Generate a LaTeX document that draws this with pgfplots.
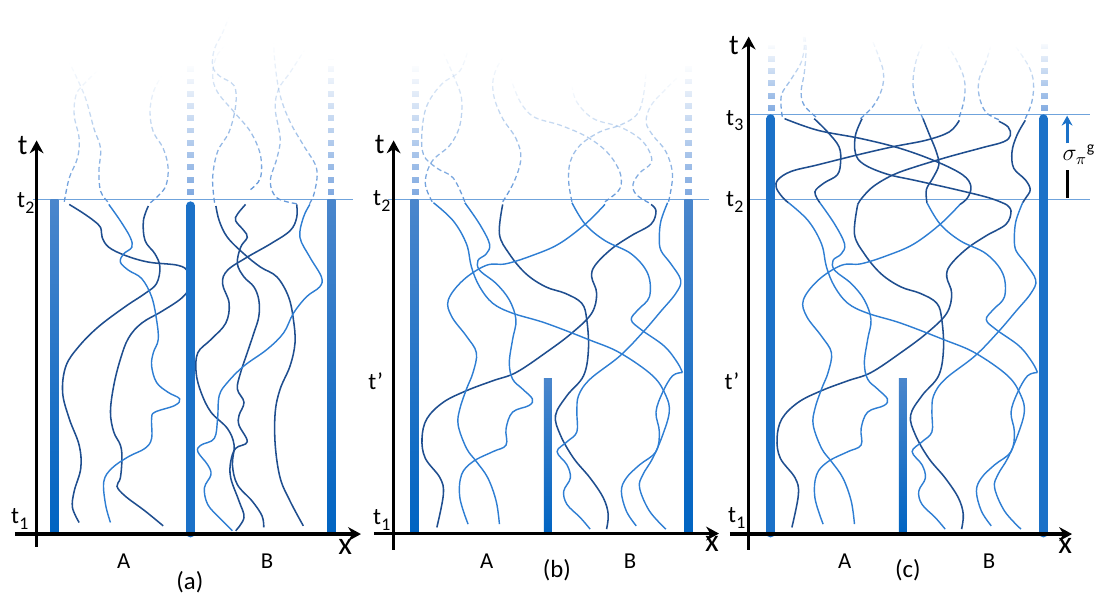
\documentclass[border=0pt]{standalone}
\usepackage{pgfplots}
\pgfplotsset{compat=1.18}
\usepackage{pgfplotstable}
\usepackage{fontspec}
\setmainfont{Carlito}
\usetikzlibrary{arrows.meta,fadings}
\definecolor{dk}{HTML}{1F4E8F}
\definecolor{lt}{HTML}{2E7ED3}
\definecolor{bar}{HTML}{1B71C8}
\definecolor{bartop}{HTML}{4A86CC}
\definecolor{barbot}{HTML}{0064C2}
\definecolor{fd}{HTML}{5F95D8}
\definecolor{fbar}{HTML}{7EA8E0}
\definecolor{hl}{HTML}{6FA3DC}
\newcommand\tl[1]{{\fontsize{12}{13}\selectfont t\kern0.2pt\raisebox{-0.5ex}{\fontsize{9}{10}\selectfont #1}}}
\pgfplotsset{
 cv/.style={smooth, tension=0.6, line width=0.72pt, no markers},
 dcv/.style={cv, color=dk, line width=0.78pt},
 lcv/.style={cv, color=lt},
 ds/.style={smooth, tension=0.6, line width=0.65pt, color=fd, dash pattern=on 2.5pt off 1.6pt, path fading=north, no markers},
 fb/.style={line width=3.2pt, color=fbar, dash pattern=on 3pt off 3.2pt, path fading=north, no markers},
 ax/.style={line width=1.6pt, black, no markers},
 axr/.style={ax, -{Stealth[length=6.5pt,width=7pt]}},
 hln/.style={line width=0.6pt, color=hl, no markers},
 gbar/.style={draw=none, top color=bartop, bottom color=barbot, no markers},
 rbar/.style={line width=4.4pt, color=bar, line cap=round, no markers},
}
% ---------- panel (b) curves (also lower part of panel (c), shifted) ----------
\pgfplotstableread[row sep=\\]{x y\\
658.3 206.7\\ 663.3 213.3\\ 658.3 226.7\\ 638.3 238.3\\ 618.3 251.7\\ 601.7 268.3\\ 598.3 280\\ 603.3 296.7\\ 598.3 316.7\\ 578.3 336.7\\ 551.7 356.7\\ 521.7 376.7\\ 498.3 385\\ 471.7 395\\ 448.3 406.7\\ 431.7 423.3\\ 426.7 443.3\\ 430 463.3\\ 445 483.3\\ 448.3 500\\ 441.7 533.3\\}\bCa
\pgfplotstableread[row sep=\\]{x y\\
508.3 206.7\\ 505 236.7\\ 515 256.7\\ 531.7 276.7\\ 551.7 290\\ 571.7 296.7\\ 588.3 306.7\\ 593.3 323.3\\ 595 353.3\\ 590 380\\ 573.3 400\\ 561.7 420\\ 566.7 440\\ 580 463.3\\ 596.7 483.3\\ 610 503.3\\ 615 520\\ 613.3 535\\}\bCb
\pgfplotstableread[row sep=\\]{x y\\
611.7 206.7\\ 591.7 226.7\\ 565 246.7\\ 538.3 258.3\\ 511.7 266.7\\ 491.7 268.3\\ 468.3 283.3\\ 453.3 303.3\\ 456.7 320\\ 471.7 340\\ 481.7 356.7\\ 478.3 376.7\\ 471.7 393.3\\ 465 413.3\\ 463.3 430\\ 471.7 453.3\\ 481.7 466.7\\ 493.3 483.3\\ 501.7 506.7\\ 505 530\\}\bCc
\pgfplotstableread[row sep=\\]{x y\\
438.3 205\\ 458.3 223.3\\ 471.7 246.7\\ 476.7 270\\ 485 290\\ 498.3 306.7\\ 518.3 316.7\\ 551.7 326.7\\ 595 343.3\\ 626.7 356.7\\ 660 380\\ 673.3 400\\ 676.7 416.7\\ 670 440\\ 660 463.3\\ 650 480\\ 646.7 493.3\\ 656.7 516.7\\ 673.3 535\\}\bCd
\pgfplotstableread[row sep=\\]{x y\\
470 205\\ 485 226.7\\ 495 246.7\\ 491.7 256.7\\ 483.3 263.3\\ 485 273.3\\ 501.7 286.7\\ 515 303.3\\ 521.7 323.3\\ 518.3 343.3\\ 515 366.7\\ 518.3 383.3\\ 528.3 393.3\\ 538.3 403.3\\ 535 410\\ 518.3 416.7\\ 511.7 433.3\\ 511.7 450\\ 498.3 456.7\\ 478.3 466.7\\ 466.7 480\\ 465 503.3\\ 473.3 530\\}\bCe
\pgfplotstableread[row sep=\\]{x y\\
578.3 205\\ 591.7 226.7\\ 611.7 243.3\\ 638.3 256.7\\ 655 276.7\\ 656.7 300\\ 645 313.3\\ 638.3 323.3\\ 648.3 333.3\\ 671.7 350\\ 685 366.7\\ 690 376.7\\}\bCf
\pgfplotstableread[row sep=\\]{x y\\
690 376.7\\ 680 380\\ 670 396.7\\ 663.3 416.7\\ 666.7 436.7\\ 663.3 456.7\\ 646.7 470\\ 633.3 483.3\\ 628.3 496.7\\ 633.3 516.7\\ 643.3 531.7\\}\bCg
\pgfplotstableread[row sep=\\]{x y\\
675 205\\ 668.3 223.3\\ 666.7 240\\ 668.3 253.3\\ 678.3 266.7\\ 688.3 283.3\\ 683.3 296.7\\ 668 315\\ 650 336\\ 626.7 360\\ 596.7 383.3\\ 585 400\\ 583.3 416.7\\ 583.3 436.7\\ 573.3 446.7\\ 563.3 456.7\\ 573.3 470\\ 576.7 483.3\\ 570 496.7\\ 573.3 510\\ 586.7 523.3\\ 596.7 535\\}\bCh
\begin{document}
\begin{tikzpicture}
\begin{axis}[x=0.5pt, y=0.5pt, y dir=reverse, xmin=0, xmax=1102, ymin=0, ymax=602,
  hide axis, clip=false]
\addplot[draw=none] coordinates {(0,0)(1102,602)};
% ===================== PANEL (a) =====================
\addplot[hln] coordinates {(33,202)(357,202)};
% dashed faded continuations
\addplot[ds] coordinates {(65,204)(70,180)(78.3,160)(80,140)(75,116.7)(76.7,96.7)(83.3,86.7)(98.3,71.7)};
\addplot[ds] coordinates {(109,204)(101.7,193.3)(100,173.3)(101.7,150)(95,130)(86.7,100)(76.7,76.7)(70,63.3)};
\addplot[ds] coordinates {(152,205)(166.7,190)(170,170)(165,150)(155,133.3)(151.7,113.3)(155,93.3)(163.3,76.7)};
\addplot[ds] coordinates {(217,205)(215,180)(220,153.3)(231.7,133.3)(238.3,106.7)(236.7,86.7)(221.7,76.7)(215,66.7)(216.7,50)(225,33.3)(231.7,16.7)};
\addplot[ds] coordinates {(253.3,191.7)(263.3,180)(263.3,156.7)(253.3,133.3)(236.7,113.3)(220,93.3)(215,76.7)(218.3,58.3)(226.7,46.7)};
\addplot[ds] coordinates {(300,206)(280,200)(273.3,183.3)(280,160)(283.3,140)(278.3,110)(281.7,90)(293.3,73.3)(308.3,50)};
\addplot[ds] coordinates {(313,206)(318.3,193.3)(320,170)(306.7,146.7)(293.3,123.3)(283.3,96.7)(278.3,66.7)(276.7,43.3)};
% solid curves
\addplot[dcv] coordinates {(70,206.7)(83.3,215)(95,223.3)(101.7,230)(103.3,240)(110,250)(126.7,258.3)(150,265)(180,268.3)(190,275)(191.7,290)(183.3,301.7)(163.3,315)(143.3,326.7)(130,341.7)(121.7,363.3)(115,390)(111.7,416.7)(115,436.7)(121.7,450)(123.3,463.3)(121.7,483.3)(118.3,491.7)(126.7,501.7)(146.7,516.7)(165,531.7)};
\addplot[dcv] coordinates {(150,208.3)(145,223.3)(146.7,243.3)(156.7,256.7)(161.7,270)(158.3,286.7)(146.7,296.7)(126.7,310)(100,330)(80,350)(66.7,370)(63.3,396.7)(70,423.3)(80,450)(81.7,473.3)(75,496.7)(73.3,513.3)(80,528.3)};
\addplot[lcv] coordinates {(110,206.7)(121.7,223.3)(131.7,240)(133.3,250)(125,256.7)(121.7,265)(130,273.3)(143.3,281.7)(153.3,300)(158.3,323.3)(160,343.3)(155,356.7)(153.3,370)(158.3,386.7)(170,396.7)(181.7,403.3)(176.7,410)(156.7,416.7)(153.3,423.3)(153.3,443.3)(146.7,453.3)(130,461.7)(113.3,473.3)(105,486.7)(106.7,510)(111.7,528.3)};
\addplot[dcv] coordinates {(218.3,208.3)(221.7,223.3)(230,240)(246.7,256.7)(263.3,270)(280,280)(291.7,300)(296.7,323.3)(298.3,346.7)(293.3,370)(283.3,393.3)(278.3,416.7)(278.3,450)(283.3,483.3)(293.3,506.7)(306.7,531.7)};
\addplot[dcv] coordinates {(248.3,206.7)(240,216.7)(238.3,223.3)(246.7,233.3)(250,240)(243.3,250)(240,266.7)(246.7,280)(256.7,290)(261.7,303.3)(261.7,320)(256.7,336.7)(250,356.7)(243.3,376.7)(240,393.3)(246.7,406.7)(241.7,420)(241.7,430)(250,446.7)(238.3,453.3)(233.3,466.7)(233.3,483.3)(241.7,506.7)(246.7,523.3)(238.3,536.7)};
\addplot[dcv] coordinates {(300,206.7)(300,220)(293.3,233.3)(273.3,246.7)(250,260)(230,273.3)(225,286.7)(231.7,306.7)(228.3,326.7)(213.3,343.3)(200,356.7)(198.3,376.7)(203.3,396.7)(213.3,416.7)(230,433.3)(236.7,450)(235,470)(240,490)(255,506.7)(265,521.7)(266.7,533.3)};
\addplot[lcv] coordinates {(313.3,206.7)(306.7,220)(303.3,240)(313.3,260)(325,280)(323.3,290)(310,300)(296.7,316.7)(286.7,336.7)(270,353.3)(246.7,370)(230,386.7)(221.7,400)(220,423.3)(216.7,443.3)(203.3,450)(200,456.7)(210,470)(213.3,480)(206.7,493.3)(210,510)(221.7,523.3)(235,536.7)};
% bars
\addplot[fb] coordinates {(192.7,197)(192.7,66)};
\addplot[fb] coordinates {(335,197)(335,60)};
\addplot[gbar] coordinates {(51,202)(59,202)(59,540)(51,540)} -- cycle;
\addplot[gbar] coordinates {(331,202)(339,202)(339,540)(331,540)} -- cycle;
\addplot[rbar] coordinates {(192.7,208)(192.7,539)};
% axes
\addplot[axr] coordinates {(37,553)(37,142)};
\addplot[axr] coordinates {(15,540)(365,540)};
\node[font=\fontsize{14.5}{15}\selectfont] at (axis cs:23,147) {t};
\node at (axis cs:26,205) {\tl{2}};
\node at (axis cs:20,525) {\tl{1}};
\node[font=\fontsize{16}{17}\selectfont] at (axis cs:349,553) {x};
\node[font=\fontsize{11.5}{13}\selectfont] at (axis cs:125,567) {A};
\node[font=\fontsize{11.5}{13}\selectfont] at (axis cs:270,567) {B};
\node[font=\fontsize{12.5}{13}\selectfont] at (axis cs:192,589) {(a)};
% ===================== PANEL (b) =====================
\addplot[hln] coordinates {(392,202)(717,202)};
\addplot[ds] coordinates {(437,204)(430,185)(436.7,163.3)(455,146.7)(465,126.7)(466.7,100)(460,80)(448.3,53.3)};
\addplot[ds] coordinates {(470,204)(458.3,180)(441.7,170)(428.3,156.7)(426.7,133.3)(431.7,106.7)(446.7,85)(465,71.7)(473.3,50)};
\addplot[ds] coordinates {(508.3,204)(520,183.3)(526.7,160)(521.7,140)(508.3,120)(500,100)(498.3,83.3)(501.7,70)(508.3,58.3)};
\addplot[ds] coordinates {(611.7,204)(625,193.3)(628.3,183.3)(625,170)(613.3,153.3)(593.3,138.3)(566.7,126.7)(540,118.3)(526,103)(516.7,80)};
\addplot[ds] coordinates {(578.3,204)(575,183.3)(576.7,163.3)(586.7,146.7)(606.7,133.3)(626.7,126.7)(643.3,116.7)(650,100)(653.3,73.3)};
\addplot[ds] coordinates {(656,205)(643.3,196.7)(640,186.7)(646.7,175)(658.3,165)(656.7,153.3)(646.7,140)(626.7,128.3)(600,120)(583.3,103.3)(578.3,86.7)};
\addplot[ds] coordinates {(676,204)(680,176.7)(673.3,153.3)(660,136.7)(653.3,123.3)(658.3,106.7)(673.3,90)(686.7,76.7)};
\addplot[dcv] table {\bCa};
\addplot[dcv] table {\bCb};
\addplot[lcv] table {\bCc};
\addplot[lcv] table {\bCd};
\addplot[lcv] table {\bCe};
\addplot[lcv] table {\bCf};
\addplot[lcv] table {\bCg};
\addplot[lcv] table {\bCh};
\addplot[fb] coordinates {(420,197)(420,66)};
\addplot[fb] coordinates {(696,197)(696,66)};
\addplot[gbar] coordinates {(415,202)(423,202)(423,540)(415,540)} -- cycle;
\addplot[gbar] coordinates {(550,383)(558,383)(558,540)(550,540)} -- cycle;
\addplot[gbar] coordinates {(692,202)(700,202)(700,540)(692,540)} -- cycle;
\addplot[axr] coordinates {(398,556)(398,142)};
\addplot[axr] coordinates {(378,539.5)(727,539.5)};
\node[font=\fontsize{14.5}{15}\selectfont] at (axis cs:384,146) {t};
\node at (axis cs:386,203) {\tl{2}};
\node[font=\fontsize{12}{13}\selectfont] at (axis cs:380,385) {t\textquoteright};
\node at (axis cs:386,526) {\tl{1}};
\node[font=\fontsize{16}{17}\selectfont] at (axis cs:720,550) {x};
\node[font=\fontsize{11.5}{13}\selectfont] at (axis cs:492,567) {A};
\node[font=\fontsize{11.5}{13}\selectfont] at (axis cs:637,567) {B};
\node[font=\fontsize{12.5}{13}\selectfont] at (axis cs:563,577) {(b)};
% ===================== PANEL (c) =====================
\addplot[hln] coordinates {(755,115.7)(1102,115.7)};
\addplot[hln] coordinates {(755,201.7)(1102,201.7)};
\addplot[ds] coordinates {(791,118)(790,96.7)(800,80)(810,63.3)(813.3,46.7)(811.7,35)};
\addplot[ds] coordinates {(825,118.3)(813.3,106.7)(810,93.3)(813.3,73.3)(815,50)(813.3,33.3)};
\addplot[ds] coordinates {(870,120)(883.3,106.7)(891.7,90)(893.3,73.3)(888.3,56.7)(881.7,40)};
\addplot[ds] coordinates {(933.3,120)(925,100)(923.3,80)(926.7,60)(933.3,43.3)};
\addplot[ds] coordinates {(970,118.3)(975,100)(975,80)(966.7,60)(958.3,46.7)};
\addplot[ds] coordinates {(1010,121)(996.7,113.3)(990,96.7)(990,80)(996.7,63.3)(1001.7,46.7)};
\addplot[ds] coordinates {(1036.7,120)(1043.3,103.3)(1045,83.3)(1040,66.7)(1026.7,46.7)};
% upper parts (t2 to t3)
\addplot[dcv] coordinates {(871.7,120)(865,136.7)(865,155)(873.3,166)(896.7,176)(926.7,182.7)(966.7,191.7)(1000,200)(1017.3,206.7)};
\addplot[dcv] coordinates {(1010,122.7)(1019.3,128.3)(1021.7,136.7)(1015,143.3)(993.3,149.3)(960,158.3)(926.7,168.3)(903.3,176.7)(883.3,188.3)(871.7,200)(867.3,206.7)};
\addplot[dcv] coordinates {(793.3,120)(826.7,131.7)(870,140)(910,150)(946.7,163.3)(973.3,176.7)(981.7,188.3)(978.3,200)(970.7,206.7)};
\addplot[dcv] coordinates {(970,121.7)(960,133.3)(936.7,141.7)(903.3,148.3)(866.7,156.7)(826.7,166.7)(800,173.3)(786.7,181.7)(785,190)(791.7,200)(797.3,205)};
\addplot[dcv] coordinates {(823.3,120)(836.7,133.3)(848.3,148.3)(850,163.3)(846.7,176.7)(833.3,185)(824,194)(829,205)};
\addplot[dcv] coordinates {(933.3,120)(940,136.7)(946.7,153.3)(949.3,166.7)(943.3,180)(936.7,191.7)(937.3,205)};
\addplot[dcv] coordinates {(1036.7,121.7)(1028.3,136.7)(1023.3,153.3)(1025,170)(1036.7,181.7)(1041.7,191.7)(1037.3,200)(1034,205)};
% lower parts (same as panel (b), shifted)
\addplot[dcv] table[x expr=\thisrow{x}+359, y=y] {\bCa};
\addplot[dcv] table[x expr=\thisrow{x}+359, y=y] {\bCb};
\addplot[lcv] table[x expr=\thisrow{x}+359, y=y] {\bCc};
\addplot[lcv] table[x expr=\thisrow{x}+359, y=y] {\bCd};
\addplot[lcv] table[x expr=\thisrow{x}+359, y=y] {\bCe};
\addplot[lcv] table[x expr=\thisrow{x}+359, y=y] {\bCf};
\addplot[lcv] table[x expr=\thisrow{x}+359, y=y] {\bCg};
\addplot[lcv] table[x expr=\thisrow{x}+359, y=y] {\bCh};
\addplot[fb] coordinates {(780,112)(780,46)};
\addplot[fb] coordinates {(1056,112)(1056,43)};
\addplot[rbar] coordinates {(779.3,120)(779.3,539)};
\addplot[rbar] coordinates {(1055,120)(1055,539)};
\addplot[gbar] coordinates {(909,383)(917,383)(917,540)(909,540)} -- cycle;
\addplot[axr] coordinates {(757,556)(757,37)};
\addplot[axr] coordinates {(738,540)(1084,540)};
% sigma marker
\addplot[line width=1.4pt, color=bar, -{Stealth[length=5pt,width=5.5pt]}, no markers] coordinates {(1079,145)(1079,117)};
\addplot[line width=1.5pt, black, no markers] coordinates {(1079,172)(1079,200)};
\node[font=\fontsize{12}{13}\selectfont] at (axis cs:1091,156) {$\sigma_{\pi}{}^{\mathrm{g}}$};
\node[font=\fontsize{14.5}{15}\selectfont] at (axis cs:742,46) {t};
\node at (axis cs:743,122) {\tl{3}};
\node at (axis cs:743,204) {\tl{2}};
\node[font=\fontsize{12}{13}\selectfont] at (axis cs:740,385) {t\textquoteright};
\node at (axis cs:745,524) {\tl{1}};
\node[font=\fontsize{16}{17}\selectfont] at (axis cs:1077,552) {x};
\node[font=\fontsize{11.5}{13}\selectfont] at (axis cs:854,567) {A};
\node[font=\fontsize{11.5}{13}\selectfont] at (axis cs:1000,567) {B};
\node[font=\fontsize{12.5}{13}\selectfont] at (axis cs:918,577) {(c)};
\end{axis}
\end{tikzpicture}
\end{document}
